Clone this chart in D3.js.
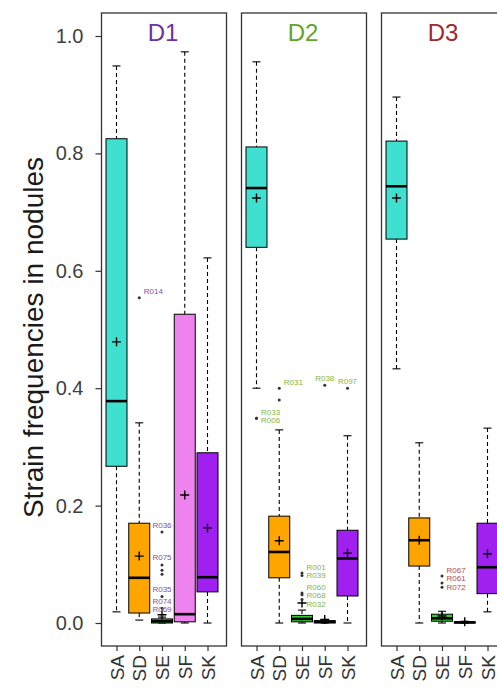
<!DOCTYPE html>
<html><head><meta charset="utf-8">
<script src="https://cdn.jsdelivr.net/npm/d3@7"></script>
<style>body{margin:0;background:#fff}svg{display:block}</style></head>
<body>
<svg id="c" width="497" height="689"></svg>
<script>
const panels = ["D1", "D2", "D3"];
const categories = ["SA", "SD", "SE", "SF", "SK"];
const yTicks = [0, 0.2, 0.4, 0.6, 0.8, 1.0];
// per category: [whiskerLow, q1, median, q3, whiskerHigh, mean]
const statsD1 = [
  [0.019, 0.267, 0.378, 0.825, 0.949, 0.479],
  [0.005, 0.017, 0.077, 0.170, 0.341, 0.114],
  [0.000, 0.000, 0.003, 0.007, 0.010, 0.014],
  [0.000, 0.002, 0.015, 0.526, 0.973, 0.218],
  [0.000, 0.053, 0.078, 0.290, 0.622, 0.162]
];
const statsD2 = [
  [0.400, 0.640, 0.741, 0.811, 0.956, 0.724],
  [0.000, 0.077, 0.121, 0.182, 0.329, 0.140],
  [0.000, 0.002, 0.007, 0.013, 0.022, 0.034],
  [0.000, 0.000, 0.002, 0.004, 0.006, 0.006],
  [0.000, 0.046, 0.110, 0.158, 0.319, 0.119]
];
const statsD3 = [
  [0.433, 0.654, 0.744, 0.821, 0.896, 0.724],
  [0.000, 0.097, 0.141, 0.179, 0.307, 0.141],
  [0.000, 0.003, 0.008, 0.015, 0.020, 0.012],
  [0.000, 0.000, 0.001, 0.002, 0.003, 0.002],
  [0.019, 0.050, 0.095, 0.170, 0.332, 0.118]
];
// [category, value, label]
const outliersD1 = [
  ["SD", 0.554, "R014"],
  ["SE", 0.155, "R036"], ["SE", 0.099, "R075"], ["SE", 0.090, ""], ["SE", 0.083, ""],
  ["SE", 0.045, "R035"], ["SE", 0.025, "R074"], ["SE", 0.012, "R069"]
];
const outliersD2 = [
  ["SA", 0.349, "R033"], ["SA", 0.349, "R006"],
  ["SD", 0.400, "R031"], ["SD", 0.380, ""],
  ["SE", 0.085, "R001"], ["SE", 0.081, "R039"], ["SE", 0.051, "R060"], ["SE", 0.048, "R068"], ["SE", 0.040, "R032"],
  ["SF", 0.405, "R038"],
  ["SK", 0.400, "R097"]
];
const outliersD3 = [
  ["SE", 0.080, "R067"], ["SE", 0.068, "R061"], ["SE", 0.061, "R072"]
];
const yTitle = "Strain frequencies in nodules";

const boxColors = ["#40E0D0", "#FFA500", "#32CD32", "#EE82EE", "#A020F0"];
const titleColors = ["#7030A0", "#5FA52A", "#A3262E"];
const labelColors = ["#7E4FA6", "#86B540", "#B54A4A"];

const allStats = [statsD1, statsD2, statsD3];
const allOutliers = [outliersD1, outliersD2, outliersD3];

const svg = d3.select("#c");
const font = "Liberation Sans, Arial, sans-serif";
const panelTop = 13, panelBottom = 646, panelW = 125, panelLeft0 = 101.5, panelStep = 140;
const y = d3.scaleLinear().domain([0, 1]).range([623, 36]);
const xIn = d3.scalePoint().domain(categories).range([15, 106]);
const boxW = 21;

// y axis
const yAxis = svg.append("g").attr("transform", `translate(${panelLeft0},0)`)
  .call(d3.axisLeft(y).tickValues(yTicks).tickFormat(d3.format(".1f")).tickSize(6).tickPadding(12));
yAxis.select(".domain").remove();
yAxis.selectAll("line").attr("stroke", "#333").attr("stroke-width", 1.2);
yAxis.selectAll("text").attr("font-family", font).attr("font-size", 20).attr("fill", "#404040");

svg.append("text").attr("transform", `translate(33,${(150 + 525) / 2}) rotate(-90)`)
  .attr("text-anchor", "middle").attr("dominant-baseline", "central")
  .attr("font-family", font).attr("font-size", 28).attr("fill", "#1a1a1a").text(yTitle);

panels.forEach((p, pi) => {
  const left = panelLeft0 + pi * panelStep;
  const g = svg.append("g").attr("transform", `translate(${left},0)`);
  const stats = allStats[pi];

  // x axis
  const xa = g.append("g").attr("transform", `translate(0,${panelBottom})`)
    .call(d3.axisBottom(xIn).tickSize(5).tickPadding(4));
  xa.select(".domain").remove();
  xa.selectAll("line").attr("stroke", "#333").attr("stroke-width", 1.2);
  xa.selectAll("text").attr("font-family", font).attr("font-size", 19).attr("fill", "#333")
    .attr("transform", "rotate(-90)").attr("text-anchor", "end").attr("dy", null)
    .attr("x", -9).attr("y", 0).attr("dominant-baseline", "central");

  // boxes
  const rects = [];
  categories.forEach((c, ci) => {
    const [lo, q1, med, q3, hi, mean] = stats[ci];
    const cx = xIn(c);
    g.append("line").attr("x1", cx).attr("x2", cx).attr("y1", y(hi)).attr("y2", y(q3))
      .attr("stroke", "#000").attr("stroke-width", 1.1).attr("stroke-dasharray", "4,3");
    g.append("line").attr("x1", cx).attr("x2", cx).attr("y1", y(q1)).attr("y2", y(lo))
      .attr("stroke", "#000").attr("stroke-width", 1.1).attr("stroke-dasharray", "4,3");
    [hi, lo].forEach(v => g.append("line").attr("x1", cx - 4).attr("x2", cx + 4)
      .attr("y1", y(v)).attr("y2", y(v)).attr("stroke", "#000").attr("stroke-width", 1.1));
    g.append("rect").attr("x", cx - boxW / 2).attr("width", boxW)
      .attr("y", y(q3)).attr("height", Math.max(0.5, y(q1) - y(q3)))
      .attr("fill", boxColors[ci]).attr("stroke", "#000").attr("stroke-width", 1);
    g.append("line").attr("x1", cx - boxW / 2).attr("x2", cx + boxW / 2)
      .attr("y1", y(med)).attr("y2", y(med)).attr("stroke", "#000").attr("stroke-width", 2.6);
    g.append("path").attr("d", `M${cx - 4.5},${y(mean)}H${cx + 4.5}M${cx},${y(mean) - 4.5}V${y(mean) + 4.5}`)
      .attr("stroke", "#000").attr("stroke-width", 1.4);
    rects.push({x0: cx - boxW / 2, x1: cx + boxW / 2, y0: y(q3), y1: y(q1) + 1, cat: c});
  });

  // outliers
  const outs = allOutliers[pi];
  const pts = outs.map(o => ({x: xIn(o[0]), y: y(o[1]), cat: o[0], label: o[2]}));
  pts.forEach(pt => g.append("circle").attr("cx", pt.x).attr("cy", pt.y).attr("r", 1.5).attr("fill", "#333"));

  // label placement: per category group, right-to-left, choose side then stack
  const placed = [];
  const overlap = (a, b) => a.x0 < b.x1 && a.x1 > b.x0 && a.y0 < b.y1 && a.y1 > b.y0;
  const h = 8.5;
  const inside = r => r.x0 >= 1 && r.x1 <= panelW - 1;
  categories.slice().reverse().forEach(cat => {
    const group = pts.filter(pt => pt.label && pt.cat === cat).sort((a, b) => a.y - b.y);
    if (!group.length) return;
    const items = group.map(pt => {
      const t = g.append("text").attr("font-family", font).attr("font-size", 8)
        .attr("fill", labelColors[pi]).attr("text-anchor", "middle")
        .attr("dominant-baseline", "central").text(pt.label);
      return {pt, t, w: t.node().getComputedTextLength() + 1};
    });
    const mk = (cx, cy, w) => ({x0: cx - w / 2, x1: cx + w / 2, y0: cy - h / 2, y1: cy + h / 2, cx, cy});
    const sides = [
      (pt, w) => [pt.x + 4 + w / 2, pt.y - 6],
      (pt, w) => [pt.x, pt.y - 7],
      (pt, w) => [pt.x - 4 - w / 2, pt.y - 6]
    ];
    const top = items[0];
    const side = sides.find(s => {
      const [cx, cy] = s(top.pt, top.w);
      const r = mk(cx, cy, top.w);
      return inside(r) && !placed.some(q => overlap(r, q)) &&
        !rects.some(q => q.cat !== cat && overlap(r, q));
    }) || sides[1];
    let lastY = -Infinity;
    items.forEach(it => {
      const [cx, cy0] = side(it.pt, it.w);
      let cy = Math.max(cy0, lastY + h);
      let r = mk(cx, cy, it.w);
      let guard = 0;
      while (placed.some(q => overlap(r, q)) && guard++ < 60) { cy += 1; r = mk(cx, cy, it.w); }
      placed.push(r);
      lastY = cy;
      it.t.attr("x", cx).attr("y", cy);
    });
  });

  // panel border and title
  g.append("rect").attr("x", 0).attr("y", panelTop).attr("width", panelW).attr("height", panelBottom - panelTop)
    .attr("fill", "none").attr("stroke", "#333").attr("stroke-width", 1.3);
  g.append("text").attr("x", panelW / 2 - 1).attr("y", 41).attr("text-anchor", "middle")
    .attr("font-family", font).attr("font-size", 24).attr("fill", titleColors[pi]).text(p);
});
</script>
</body></html>
